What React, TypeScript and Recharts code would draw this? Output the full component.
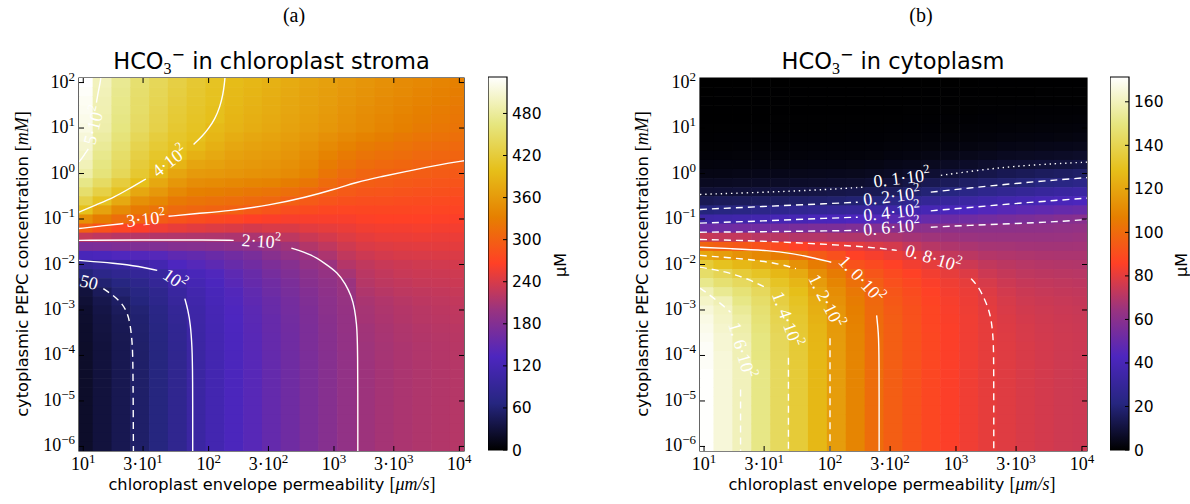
import React from 'react';
import { ScatterChart, Scatter, XAxis, YAxis, ReferenceArea, ComposedChart } from 'recharts';

// ---------------- grid (log10 of the axis values) ----------------
const xExps = [1.0, 1.15, 1.3, 1.45, 1.6, 1.75, 1.9, 2.05, 2.2, 2.35, 2.5, 2.65, 2.8, 2.95, 3.1, 3.25, 3.4, 3.55, 3.7, 3.85, 4.0];
const yExps = [2, 1.8, 1.6, 1.4, 1.2, 1, 0.8, 0.6, 0.4, 0.2, 0, -0.2, -0.4, -0.6, -0.8, -1, -1.2, -1.4, -1.6, -1.8, -2, -2.2, -2.4, -2.6, -2.8, -3, -3.2, -3.4, -3.6, -3.8, -4, -4.2, -4.4, -4.6, -4.8, -5, -5.2, -5.4, -5.6, -5.8, -6];

// HCO3- in chloroplast stroma [uM], one column per x value, rows top -> bottom
const stromaColumns: number[][] = [
  [532,529,526,524,521,518,512,507,502,495,487,470,453,430,400,350,300,229,172,126,88,63,44,32,28,25,24,23,23,22,22,22,22,22,22,22,22,22,22,22,22],
  [497,495,493,492,490,488,483,478,472,467,462,447,428,404,369,330,285,224,173,129,94,76,59,47,40,37,35,34,33,32,32,32,32,32,32,32,32,32,32,32,32],
  [475,473,471,470,468,466,461,456,450,445,440,422,404,376,345,314,272,220,176,135,99,84,68,60,52,48,45,44,43,42,42,42,42,42,42,42,42,42,42,42,42],
  [455,453,451,450,448,446,440,433,427,420,414,399,374,350,327,305,264,218,177,138,109,91,78,70,65,60,58,57,56,55,54,54,54,54,54,54,54,54,54,54,54],
  [440,438,436,434,432,430,423,417,410,404,392,375,358,340,319,296,256,216,178,140,117,98,90,82,78,73,71,69,68,67,66,66,66,66,66,66,66,66,66,66,66],
  [427,424,422,419,417,414,410,405,400,387,372,357,342,326,310,287,251,215,181,148,133,118,109,99,95,90,88,86,85,84,83,83,83,83,83,83,83,83,83,83,83],
  [415,413,411,409,407,405,402,395,384,372,360,347,333,320,306,281,247,214,182,152,140,127,120,114,111,108,107,106,105,104,103,103,103,103,103,103,103,103,103,103,103],
  [405,404,403,401,400,394,389,383,376,367,358,344,331,317,303,276,244,213,184,158,147,136,131,126,124,121,120,119,118,118,117,117,117,117,117,117,117,117,117,117,117],
  [396,394,392,390,388,386,380,374,367,361,355,341,328,314,301,272,242,212,187,165,156,147,143,138,136,134,133,132,131,131,130,130,130,130,130,130,130,130,130,130,130],
  [390,388,386,384,382,380,374,369,363,358,352,338,324,310,293,266,238,211,190,172,165,157,154,150,148,146,145,144,143,143,142,142,142,142,142,142,142,142,142,142,142],
  [384,382,380,379,377,375,370,365,360,355,350,336,321,307,287,264,241,217,197,184,175,169,164,161,158,157,155,155,154,154,153,153,153,153,153,153,153,153,153,153,153],
  [378,376,374,373,371,369,364,359,355,350,345,330,315,300,281,262,242,223,204,193,183,178,173,171,168,167,166,165,164,164,163,163,163,163,163,163,163,163,163,163,163],
  [372,370,368,367,365,363,358,353,347,342,337,323,308,293,278,262,247,231,216,200,194,187,184,180,178,176,175,174,174,174,173,173,173,173,173,173,173,173,173,173,173],
  [366,364,363,361,359,357,350,343,336,329,322,311,299,287,274,262,250,237,224,212,200,196,192,190,188,187,186,185,184,184,183,183,183,183,183,183,183,183,183,183,183],
  [360,358,356,354,352,350,342,335,327,320,312,303,293,283,272,262,253,244,234,225,217,208,200,199,197,196,195,195,194,194,193,193,193,193,193,193,193,193,193,193,193],
  [355,353,351,348,346,344,336,328,321,313,305,298,289,281,273,265,257,249,241,233,225,221,218,214,210,208,207,205,204,203,203,202,202,202,202,202,202,202,202,202,202],
  [350,348,345,343,340,338,331,324,316,309,302,295,288,281,273,266,259,252,244,237,230,226,223,219,215,213,212,210,209,208,208,207,207,207,207,207,207,207,207,207,207],
  [345,343,340,338,335,333,326,319,313,306,299,292,286,279,273,266,259,253,246,240,233,230,226,223,219,217,216,214,213,212,212,211,211,211,211,211,211,211,211,211,211],
  [341,338,336,333,331,328,322,315,309,303,296,290,284,278,272,266,260,254,247,241,235,232,229,225,222,220,219,217,216,215,215,214,214,214,214,214,214,214,214,214,214],
  [337,334,332,329,327,324,318,312,306,300,294,288,283,277,271,265,259,253,248,242,236,233,230,227,224,222,221,219,218,217,217,216,216,216,216,216,216,216,216,216,216],
  [333,330,328,325,323,320,315,309,304,298,292,287,281,275,270,264,259,253,248,242,237,234,232,229,226,224,223,221,220,219,219,218,218,218,218,218,218,218,218,218,218],
];

// HCO3- in cytoplasm [uM], one column per x value, rows top -> bottom
const cytoColumns: number[][] = [
  [0,0,0.1,0.1,0.2,0.3,0.5,0.9,1.4,2.2,3.5,5.5,8.7,14,21,34,51,74,98,120,135,145,152,159,162,165,167,168,169,170,170,170,171,171,171,171,171,171,171,171,171],
  [0,0.1,0.1,0.1,0.2,0.4,0.6,0.9,1.4,2.3,3.6,5.7,9.1,15,22,35,52,73,96,117,130,141,147,153,159,161,162,163,164,164,165,165,165,165,165,165,165,165,165,165,165],
  [0,0.1,0.1,0.2,0.2,0.4,0.6,1.0,1.5,2.4,3.8,6,9.5,15.5,23,36,53,73,94,113,126,135,143,148,151,154,156,157,158,159,159,160,160,160,160,160,160,160,160,160,160],
  [0,0.1,0.1,0.2,0.2,0.4,0.6,1.0,1.6,2.5,4.0,6.3,10,16,24.5,37,53,71,92,110,123,131,138,142.5,145,147,148,149,150,150,150,151,151,151,151,151,151,151,151,151,151],
  [0,0.1,0.1,0.2,0.3,0.4,0.7,1.0,1.6,2.6,4.2,6.6,10.6,16.7,26,39,54,71,89,106,120,126,131,134.5,137,139,140,141,142,142,142.5,143,143,143,143,143,143,143,143,143,143],
  [0,0.1,0.1,0.2,0.3,0.4,0.7,1.1,1.7,2.7,4.4,6.9,11.2,17.3,27,39,55,70,86,101,113,121.5,125.5,128.5,130.5,132,133,133.7,134.2,134.5,134.7,135,135,135,135,135,135,135,135,135,135],
  [0,0.1,0.1,0.2,0.3,0.4,0.7,1.1,1.8,2.8,4.5,7.1,11.6,17.8,28,41,56,70,83.5,95,106,112,116.5,119.5,122,123,124,125,125.4,125.7,126,126,126,126,126,126,126,126,126,126,126],
  [0,0.1,0.1,0.2,0.3,0.5,0.7,1.2,1.8,2.9,4.7,7.4,12.2,18.4,29,41.5,56,69,81.5,91,100.5,105.5,109,111.5,113,114.5,115.3,115.9,116.3,116.6,116.8,117,117,117,117,117,117,117,117,117,117],
  [0,0.1,0.1,0.2,0.3,0.5,0.8,1.2,1.9,3.1,4.9,7.8,12.8,19.1,30,43,57,69,80,86,92,98.5,102,104.5,106,107,107.7,108.2,108.5,108.7,108.9,109,109,109,109,109,109,109,109,109,109],
  [0,0.1,0.1,0.2,0.3,0.5,0.8,1.3,2.1,3.4,5.4,8.5,14,21,33,45,58,68,78,84,89,93,96,98,99.3,100,100.4,100.7,100.8,101,101,101,101,101,101,101,101,101,101,101,101],
  [0,0.1,0.1,0.2,0.4,0.6,1.0,1.6,2.5,4.0,6.3,10,16,24,35,47,59,68,76.5,82,86,89,91,93,94,95,95.5,95.8,96,96,96,96,96,96,96,96,96,96,96,96,96],
  [0,0.1,0.2,0.3,0.5,0.7,1.1,1.8,2.9,4.6,7.2,11.8,17.9,26.7,37,48,60,66.5,73,79.4,83,86,88,89.5,90.5,91.2,91.6,91.8,92,92,92,92,92,92,92,92,92,92,92,92,92],
  [0,0.1,0.2,0.3,0.5,0.8,1.3,2.1,3.4,5.4,8.5,13.8,19.7,29,39,50,60.5,65.6,70.6,75.7,80.5,83,84.8,86,86.8,87.3,87.6,87.8,88,88,88,88,88,88,88,88,88,88,88,88,88],
  [0,0.2,0.2,0.4,0.6,0.9,1.5,2.4,3.8,6.0,9.5,15,21.5,31,41,51.6,60.8,65,69,73,77,80.5,82.3,83.4,84,84.4,84.7,85,85,85,85,85,85,85,85,85,85,85,85,85,85],
  [0,0.2,0.3,0.4,0.7,1.1,1.7,2.7,4.4,6.9,11,16.7,23.7,33,42.6,52.8,61,64.5,68,71.5,75,78.4,80.4,81.4,81.9,82.2,82.5,82.5,82.5,82.5,82.5,82.5,82.5,82.5,82.5,82.5,82.5,82.5,82.5,82.5,82.5],
  [0.1,0.2,0.3,0.5,0.8,1.2,1.9,3.1,4.9,7.8,12.4,17.8,25.6,34.9,44.3,53.8,61,64,67,70,72.7,75,77,78.5,79.5,80,80.3,80.5,80.5,80.5,80.5,80.5,80.5,80.5,80.5,80.5,80.5,80.5,80.5,80.5,80.5],
  [0.1,0.2,0.3,0.5,0.9,1.4,2.2,3.5,5.5,8.7,13.7,18.9,27.4,36.7,45.9,55,61,64,66.8,69.3,71.5,73.4,75,76.2,77.1,77.7,78.2,78.5,78.7,79,79,79,79,79,79,79,79,79,79,79,79],
  [0.1,0.2,0.4,0.6,0.9,1.5,2.3,3.7,5.9,9.3,14.6,20,29.1,38.2,47.1,56,61.3,64,66.4,68.6,70.5,72.1,73.5,74.6,75.4,76.1,76.6,77,77.2,77.5,77.5,77.5,77.5,77.5,77.5,77.5,77.5,77.5,77.5,77.5,77.5],
  [0.2,0.3,0.4,0.6,1.0,1.6,2.5,4.0,6.3,10,15.6,21.8,30.7,39.6,48.3,57,61.5,64,66.2,68.2,70,71.5,72.8,73.8,74.6,75.2,75.7,76,76.2,76.5,76.5,76.5,76.5,76.5,76.5,76.5,76.5,76.5,76.5,76.5,76.5],
  [0.2,0.3,0.4,0.7,1.0,1.7,2.6,4.2,6.6,10.6,16.3,23.1,32,40.9,49.6,58.3,62,64.2,66.2,68,69.6,71,72.2,73.2,74,74.5,74.9,75.2,75.5,75.5,75.5,75.5,75.5,75.5,75.5,75.5,75.5,75.5,75.5,75.5,75.5],
  [0.2,0.3,0.4,0.7,1.1,1.8,2.8,4.4,7.1,11.4,17.1,24.4,33.3,42.1,50.6,59.1,62.5,64.6,66.4,68,69.4,70.7,71.8,72.7,73.4,74,74.4,74.7,75,75,75,75,75,75,75,75,75,75,75,75,75],
];

const stromaMax = 532;
const cytoMax = 171.4;

// ---------------- ticks ----------------
const xTicks = [10, 30, 100, 300, 1000, 3000, 10000];
const xTickPre = ['', '3·', '', '3·', '', '3·', ''];
const xTickSup = ['1', '1', '2', '2', '3', '3', '4'];
const yTicks = [1e-6, 1e-5, 1e-4, 1e-3, 1e-2, 1e-1, 1, 10, 100];
const yTickSup = ['−6', '−5', '−4', '−3', '−2', '−1', '0', '1', '2'];
const stromaBarTicks = [0, 60, 120, 180, 240, 300, 360, 420, 480];
const cytoBarTicks = [0, 20, 40, 60, 80, 100, 120, 140, 160];

// ---------------- contour lines (log10 x, log10 y) ----------------
type Contour = { pts: number[][]; kind: 'solid' | 'dash' | 'dot' };
const stromaContours: Contour[] = [
  { pts: [[0.966, 0.26], [0.98, 0.3], [1.01, 0.42], [1.04, 0.54]], kind: 'solid' },
  { pts: [[1.105, 1.56], [1.12, 1.8], [1.135, 2.0], [1.14, 2.1]], kind: 'solid' },
  { pts: [[0.966, -0.85], [1.1, -0.69], [1.25, -0.52], [1.38, -0.31], [1.5, -0.12]], kind: 'solid' },
  { pts: [[1.88, 0.64], [1.95, 0.82], [2.0, 0.99], [2.05, 1.2], [2.09, 1.46], [2.115, 1.75], [2.125, 1.95], [2.13, 2.1]], kind: 'solid' },
  { pts: [[0.966, -1.21], [1.15, -1.15], [1.32, -1.1]], kind: 'solid' },
  { pts: [[1.68, -0.94], [1.9, -0.88], [2.17, -0.82], [2.48, -0.7], [2.78, -0.52], [3.0, -0.35], [3.18, -0.19], [3.37, -0.07], [3.55, 0.03], [3.85, 0.2], [4.037, 0.28]], kind: 'solid' },
  { pts: [[0.966, -1.47], [1.5, -1.46], [2.0, -1.46], [2.2, -1.47]], kind: 'solid' },
  { pts: [[2.66, -1.64], [2.82, -1.78], [2.93, -1.98], [3.03, -2.18], [3.09, -2.42], [3.14, -2.7], [3.165, -2.98], [3.18, -3.3], [3.19, -3.7], [3.19, -6.1]], kind: 'solid' },
  { pts: [[0.966, -1.91], [1.25, -1.97], [1.45, -2.04], [1.59, -2.13]], kind: 'solid' },
  { pts: [[1.81, -2.75], [1.835, -3.0], [1.855, -3.31], [1.868, -3.8], [1.873, -4.4], [1.873, -6.1]], kind: 'solid' },
  { pts: [[1.16, -2.53], [1.25, -2.7], [1.31, -2.86], [1.35, -3.05], [1.375, -3.31], [1.39, -3.7], [1.397, -4.1], [1.4, -6.1]], kind: 'dash' },
];
const cytoContours: Contour[] = [
  { pts: [[0.968, -0.46], [1.5, -0.41], [2.0, -0.35], [2.26, -0.3]], kind: 'dot' },
  { pts: [[2.88, -0.04], [3.2, 0.08], [3.46, 0.16], [3.8, 0.22], [4.04, 0.25]], kind: 'dot' },
  { pts: [[0.968, -0.79], [1.5, -0.72], [2.0, -0.66], [2.22, -0.63]], kind: 'dash' },
  { pts: [[2.8, -0.41], [3.1, -0.32], [3.46, -0.22], [3.8, -0.14], [4.04, -0.09]], kind: 'dash' },
  { pts: [[0.968, -1.09], [1.5, -1.04], [2.0, -0.98], [2.22, -0.96]], kind: 'dash' },
  { pts: [[2.8, -0.82], [3.1, -0.75], [3.46, -0.66], [3.8, -0.59], [4.04, -0.54]], kind: 'dash' },
  { pts: [[0.968, -1.29], [1.5, -1.28], [2.0, -1.26], [2.22, -1.25]], kind: 'dash' },
  { pts: [[2.8, -1.18], [3.1, -1.14], [3.46, -1.1], [3.8, -1.06], [4.04, -1.01]], kind: 'dash' },
  { pts: [[0.968, -1.45], [1.3, -1.47], [1.67, -1.51], [2.12, -1.58], [2.4, -1.64], [2.53, -1.69]], kind: 'dash' },
  { pts: [[3.12, -2.31], [3.18, -2.5], [3.22, -2.72], [3.255, -2.95], [3.28, -3.2], [3.295, -3.6], [3.3, -4.0], [3.3, -6.1]], kind: 'dash' },
  { pts: [[0.968, -1.62], [1.2, -1.65], [1.52, -1.69], [1.7, -1.76], [1.85, -1.84], [2.01, -1.95]], kind: 'solid' },
  { pts: [[2.37, -3.12], [2.385, -3.5], [2.39, -4.0], [2.39, -6.1]], kind: 'solid' },
  { pts: [[0.968, -1.8], [1.2, -1.85], [1.43, -1.91], [1.6, -1.99], [1.73, -2.09]], kind: 'dash' },
  { pts: [[2.0, -3.62], [2.0, -6.1]], kind: 'dash' },
  { pts: [[0.968, -2.06], [1.1, -2.12], [1.22, -2.2], [1.36, -2.33], [1.5, -2.52]], kind: 'dash' },
  { pts: [[1.67, -4.05], [1.67, -6.1]], kind: 'dash' },
  { pts: [[0.968, -2.52], [1.05, -2.68], [1.15, -2.9], [1.21, -3.05]], kind: 'dash' },
  { pts: [[1.29, -4.75], [1.29, -6.1]], kind: 'dash' },
];

type CLabel = { lx: number; ly: number; text: string; sup: string; angle: number };
const stromaLabels: CLabel[] = [
  { lx: 1.085, ly: 1.06, text: '5·10', sup: '2', angle: -76 },
  { lx: 1.69, ly: 0.27, text: '4·10', sup: '2', angle: -38 },
  { lx: 1.5, ly: -1.0, text: '3·10', sup: '2', angle: -6 },
  { lx: 2.42, ly: -1.49, text: '2·10', sup: '2', angle: 4 },
  { lx: 1.73, ly: -2.33, text: '10', sup: '2', angle: 35 },
  { lx: 1.045, ly: -2.39, text: '50', sup: '', angle: 14 },
];
const cytoLabels: CLabel[] = [
  { lx: 2.57, ly: -0.1, text: '0. 1·10', sup: '2', angle: -7 },
  { lx: 2.49, ly: -0.5, text: '0. 2·10', sup: '2', angle: -7 },
  { lx: 2.49, ly: -0.85, text: '0. 4·10', sup: '2', angle: -6 },
  { lx: 2.49, ly: -1.18, text: '0. 6·10', sup: '2', angle: -5 },
  { lx: 2.82, ly: -1.86, text: '0. 8·10', sup: '2', angle: 17 },
  { lx: 2.25, ly: -2.32, text: '1. 0·10', sup: '2', angle: 47 },
  { lx: 1.97, ly: -2.8, text: '1. 2·10', sup: '2', angle: 63 },
  { lx: 1.66, ly: -3.2, text: '1. 4·10', sup: '2', angle: 70 },
  { lx: 1.3, ly: -3.88, text: '1. 6·10', sup: '2', angle: 74 },
];

// ---------------- colormap (matplotlib CMRmap) ----------------
const CMR_NODES = [
  [0.0, 0.0, 0.0, 0.0],
  [0.125, 0.15, 0.15, 0.5],
  [0.25, 0.3, 0.15, 0.75],
  [0.375, 0.6, 0.2, 0.5],
  [0.5, 1.0, 0.25, 0.15],
  [0.625, 0.9, 0.5, 0.0],
  [0.75, 0.9, 0.75, 0.1],
  [0.875, 0.9, 0.9, 0.5],
  [1.0, 1.0, 1.0, 1.0],
];
function cmr(t: number): string {
  const u = Math.min(1, Math.max(0, t));
  for (let k = 1; k < CMR_NODES.length; k++) {
    const a = CMR_NODES[k - 1];
    const b = CMR_NODES[k];
    if (u <= b[0]) {
      const f = (u - a[0]) / (b[0] - a[0]);
      const c = [1, 2, 3].map((i) => Math.round(255 * (a[i] + f * (b[i] - a[i]))));
      return `rgb(${c[0]},${c[1]},${c[2]})`;
    }
  }
  return 'rgb(255,255,255)';
}

// ---------------- layout ----------------
const PAGE_W = 1190;
const PAGE_H = 504;
const PLOT_T = 78;
const PLOT_B = 451;
const Y_MIN = -6.1;
const Y_MAX = 2.1;
const X_AXIS_H = 30;
const Y_AXIS_W = 70;
const X_STEP = 0.15;
const Y_STEP = 0.2;
const SERIF = "'Liberation Serif', 'DejaVu Serif', serif";
const SANS = "'DejaVu Sans', sans-serif";

type Cfg = { left: number; width: number; plotL: number; plotR: number; xMin: number; xMax: number };
const cfgA: Cfg = { left: 0, width: 600, plotL: 79, plotR: 464, xMin: 0.966, xMax: 4.037 };
const cfgB: Cfg = { left: 600, width: 590, plotL: 100, plotR: 487, xMin: 0.968, xMax: 4.04 };

const dashOf = (k: string) => (k === 'dash' ? '7 5' : k === 'dot' ? '1.4 3.8' : undefined);

function HeatPanel({ cfg, columns, vmax, contours, labels }: { cfg: Cfg; columns: number[][]; vmax: number; contours: Contour[]; labels: CLabel[] }) {
  const pxX = (cfg.plotR - cfg.plotL) / (cfg.xMax - cfg.xMin);
  const pxY = (PLOT_B - PLOT_T) / (Y_MAX - Y_MIN);
  const hw = (pxX * X_STEP) / 2;
  const hh = (pxY * Y_STEP) / 2;
  const cells: { x: number; y: number; v: number }[] = [];
  columns.forEach((col, i) => col.forEach((v, j) => cells.push({ x: 10 ** xExps[i], y: 10 ** yExps[j], v })));

  const cellShape = (p: any) => {
    const x0 = Math.max(p.cx - hw, cfg.plotL);
    const x1 = Math.min(p.cx + hw + 0.6, cfg.plotR);
    const y0 = Math.max(p.cy - hh, PLOT_T);
    const y1 = Math.min(p.cy + hh + 0.6, PLOT_B);
    return <rect x={x0} y={y0} width={Math.max(0, x1 - x0)} height={Math.max(0, y1 - y0)} fill={cmr(p.payload.v / vmax)} />;
  };
  const labelShape = (p: any) => {
    const d = p.payload;
    return (
      <text x={p.cx} y={p.cy} transform={`rotate(${d.angle} ${p.cx} ${p.cy})`} textAnchor="middle" dominantBaseline="central" fill="#fff" fontFamily={SERIF} fontSize={18}>
        {d.text}
        {d.sup ? <tspan dy={-6} fontSize={12.5}>{d.sup}</tspan> : null}
      </text>
    );
  };
  const xTick = (p: any) => {
    const v = p.payload.value;
    const i = xTicks.findIndex((t) => Math.abs(Math.log10(t) - Math.log10(v)) < 0.01);
    return (
      <g>
        <line x1={p.x} x2={p.x} y1={PLOT_B} y2={PLOT_B - 5} stroke="#000" strokeWidth={1} />
        <line x1={p.x} x2={p.x} y1={PLOT_T} y2={PLOT_T + 5} stroke="#000" strokeWidth={1} />
        <text x={p.x} y={PLOT_B + 19} textAnchor="middle" fontFamily={SERIF} fontSize={18} fill="#000">
          {xTickPre[i]}10<tspan dy={-7} fontSize={13}>{xTickSup[i]}</tspan>
        </text>
      </g>
    );
  };
  const yTick = (p: any) => {
    const v = p.payload.value;
    const i = yTicks.findIndex((t) => Math.abs(Math.log10(t) - Math.log10(v)) < 0.01);
    return (
      <g>
        <line x1={cfg.plotL} x2={cfg.plotL + 5} y1={p.y} y2={p.y} stroke="#000" strokeWidth={1} />
        <line x1={cfg.plotR - 5} x2={cfg.plotR} y1={p.y} y2={p.y} stroke="#000" strokeWidth={1} />
        <text x={cfg.plotL - 4} y={p.y + 5} textAnchor="end" fontFamily={SERIF} fontSize={18} fill="#000">
          10<tspan dy={-7} fontSize={13}>{yTickSup[i]}</tspan>
        </text>
      </g>
    );
  };

  return (
    <div style={{ position: 'absolute', left: cfg.left, top: 0 }}>
      <ScatterChart
        width={cfg.width}
        height={PAGE_H}
        margin={{ top: PLOT_T, right: cfg.width - cfg.plotR, bottom: PAGE_H - PLOT_B - X_AXIS_H, left: cfg.plotL - Y_AXIS_W }}
      >
        <Scatter data={cells} shape={cellShape} isAnimationActive={false} legendType="none" />
        {contours.map((c, k) => (
          <Scatter
            key={`c${k}`}
            data={c.pts.map(([a, b]) => ({ x: 10 ** a, y: 10 ** b }))}
            line={{ stroke: '#ffffff', strokeWidth: 1.4, strokeDasharray: dashOf(c.kind) }}
            lineJointType="basis"
            shape={() => <g />}
            isAnimationActive={false}
            legendType="none"
          />
        ))}
        <Scatter data={labels.map((l) => ({ x: 10 ** l.lx, y: 10 ** l.ly, ...l }))} shape={labelShape} isAnimationActive={false} legendType="none" />
        <XAxis
          dataKey="x"
          type="number"
          scale="log"
          domain={[10 ** cfg.xMin, 10 ** cfg.xMax]}
          allowDataOverflow
          ticks={xTicks}
          interval={0}
          height={X_AXIS_H}
          axisLine={false}
          tickLine={false}
          tickSize={0}
          tickMargin={0}
          tick={xTick}
        />
        <YAxis
          dataKey="y"
          type="number"
          scale="log"
          domain={[10 ** Y_MIN, 10 ** Y_MAX]}
          allowDataOverflow
          ticks={yTicks}
          interval={0}
          width={Y_AXIS_W}
          axisLine={false}
          tickLine={false}
          tickSize={0}
          tickMargin={0}
          tick={yTick}
        />
        <ReferenceArea x1={10 ** cfg.xMin} x2={10 ** cfg.xMax} y1={10 ** Y_MIN} y2={10 ** Y_MAX} fill="none" fillOpacity={0} stroke="#000" strokeWidth={1.2} />
      </ScatterChart>
    </div>
  );
}

function ColorBar({ left, vmax, ticks, id }: { left: number; vmax: number; ticks: number[]; id: string }) {
  const barW = 19;
  const barTick = (p: any) => (
    <g>
      <line x1={p.x - 4} x2={p.x} y1={p.y} y2={p.y} stroke="#000" strokeWidth={1} />
      <text x={p.x + 5} y={p.y + 5.5} fontFamily={SANS} fontSize={15.5} fill="#000">
        {p.payload.value}
      </text>
    </g>
  );
  return (
    <div style={{ position: 'absolute', left, top: 0 }}>
      <ComposedChart width={barW + 60} height={PAGE_H} margin={{ top: 77, right: 0, bottom: PAGE_H - 450, left: 0 }} data={[{ x: 0 }, { x: 1 }]}>
        <defs>
          <linearGradient id={id} x1="0" y1="1" x2="0" y2="0">
            {CMR_NODES.map((n, k) => (
              <stop key={k} offset={n[0]} stopColor={cmr(n[0])} />
            ))}
          </linearGradient>
        </defs>
        <XAxis dataKey="x" type="number" domain={[0, 1]} hide />
        <YAxis
          type="number"
          orientation="right"
          domain={[0, vmax]}
          allowDataOverflow
          ticks={ticks}
          interval={0}
          width={60}
          axisLine={false}
          tickLine={false}
          tickSize={0}
          tickMargin={0}
          tick={barTick}
        />
        <ReferenceArea x1={0} x2={1} y1={0} y2={vmax} fill={`url(#${id})`} fillOpacity={1} stroke="#000" strokeWidth={1.2} ifOverflow="visible" />
      </ComposedChart>
    </div>
  );
}

function Title({ x, rest }: { x: number; rest: string }) {
  return (
    <text x={x} y={69} textAnchor="middle" fontFamily={SANS} fontSize={22.5} fill="#000">
      HCO<tspan dy={5} fontSize={16} fontFamily={SERIF}>3</tspan>
      <tspan dy={-14} fontSize={16}>−</tspan>
      <tspan dy={9}>{rest}</tspan>
    </text>
  );
}

export default function App() {
  return (
    <div style={{ position: 'absolute', left: 0, top: 0, width: PAGE_W, height: PAGE_H, background: '#fff', overflow: 'hidden' }}>
      <HeatPanel cfg={cfgA} columns={stromaColumns} vmax={stromaMax} contours={stromaContours} labels={stromaLabels} />
      <HeatPanel cfg={cfgB} columns={cytoColumns} vmax={cytoMax} contours={cytoContours} labels={cytoLabels} />
      <ColorBar left={488} vmax={stromaMax} ticks={stromaBarTicks} id="cmrA" />
      <ColorBar left={1110} vmax={cytoMax} ticks={cytoBarTicks} id="cmrB" />
      <svg width={PAGE_W} height={PAGE_H} style={{ position: 'absolute', left: 0, top: 0, pointerEvents: 'none' }}>
        <text x={294} y={22} textAnchor="middle" fontFamily={SERIF} fontSize={20} fill="#000">(a)</text>
        <text x={921} y={22} textAnchor="middle" fontFamily={SERIF} fontSize={20} fill="#000">(b)</text>
        <Title x={271.5} rest=" in chloroplast stroma" />
        <Title x={893} rest=" in cytoplasm" />
        {[272, 892].map((cx, k) => (
          <text key={`xl${k}`} x={cx} y={490} textAnchor="middle" fontFamily={SANS} fontSize={16.2} fill="#000">
            chloroplast envelope permeability <tspan fontFamily={SERIF} fontSize={18}>[</tspan>
            <tspan fontFamily={SERIF} fontStyle="italic" fontSize={18}>μm/s</tspan>
            <tspan fontFamily={SERIF} fontSize={18}>]</tspan>
          </text>
        ))}
        {[22, 642].map((cx, k) => (
          <text key={`yl${k}`} transform={`translate(${cx},264) rotate(-90)`} textAnchor="middle" dominantBaseline="central" fontFamily={SANS} fontSize={16.2} fill="#000">
            cytoplasmic PEPC concentration <tspan fontFamily={SERIF} fontSize={18}>[</tspan>
            <tspan fontFamily={SERIF} fontStyle="italic" fontSize={18}>mM</tspan>
            <tspan fontFamily={SERIF} fontSize={18}>]</tspan>
          </text>
        ))}
        {[560, 1181].map((cx, k) => (
          <text key={`mu${k}`} transform={`translate(${cx},265) rotate(-90)`} textAnchor="middle" dominantBaseline="central" fontFamily={SANS} fontSize={16} fill="#000">
            μM
          </text>
        ))}
      </svg>
    </div>
  );
}
